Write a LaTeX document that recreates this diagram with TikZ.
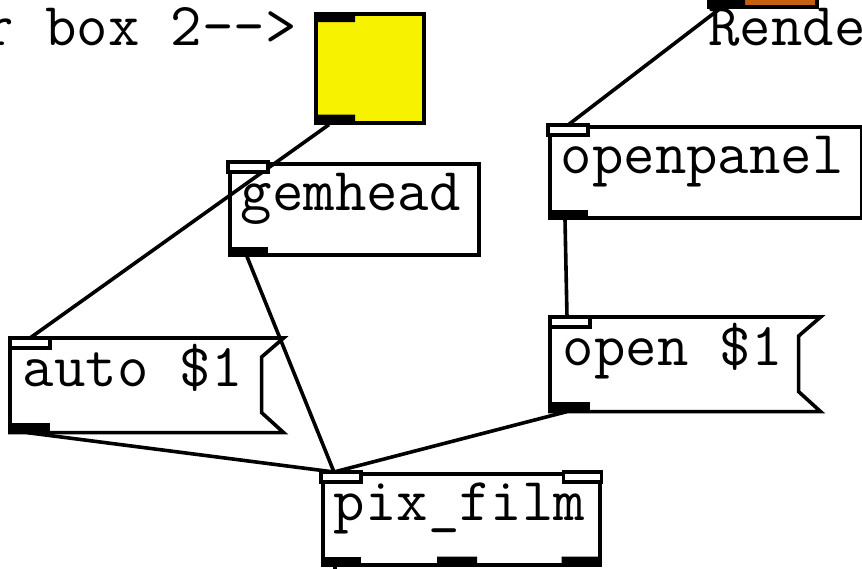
\documentclass[tikz,border=0pt]{standalone}
\newcommand\pdfont{\ttfamily\fontsize{30.5pt}{36pt}\selectfont}
\hyphenpenalty=10000
\begin{document}
\begin{tikzpicture}[x=0.5pt,y=-0.5pt,line join=miter,font=\pdfont]
		\definecolor{bangyellow}{rgb}{0.97, 0.95, 0.0}
		\definecolor{bangorange}{rgb}{0.76, 0.38, 0.08}
		\useasboundingbox (0,0) rectangle (862,568);
		\tikzset{
			pdbox/.style={draw, line width=1.8pt, anchor=north west, inner xsep=5.5pt, inner ysep=0pt,
				text height=23.5pt, text depth=22pt, text width=#1, align=flush left},
			pdmsg/.style={pdbox=#1, draw=none},
			pdbang/.style={draw, line width=1.8pt, anchor=north west, inner sep=0pt,
				minimum width=54pt, minimum height=54.5pt},
			wire/.style={line width=1.8pt},
			inlet/.style={draw, fill=white, line width=1.6pt},
			outlet/.style={fill=black},
		}
		
		\node[pdbang, fill=bangyellow] (bangY) at (314,12) {};
		\node[pdbang, fill=bangorange] (bangR) at (707,-104) {};
		\node[pdbox=113.5pt] (gem) at (228,162) {gemhead};
		\node[pdbox=145pt] (openp) at (548,125) {openpanel};
		\node[pdmsg=124pt] (auto) at (10,338) {auto \$1};
		\node[pdmsg=122.5pt] (open) at (550,317) {open \$1};
		\node[pdbox=127.5pt] (film) at (321,472) {pix\_film};
		\node[anchor=base west, inner sep=0pt] (boxnote) at (-18,45) {r box 2-{}-{}>};
		\node[anchor=base west, inner sep=0pt] (rendnote) at (708,45) {Rende};
		
		%message boxes
		\foreach \n in {auto,open}
		\draw[wire] (\n.north west) -- (\n.north east)
		-- ([xshift=-11pt,yshift=-9.5pt]\n.north east)
		-- ([xshift=-11pt,yshift=10pt]\n.south east)
		-- (\n.south east) -- (\n.south west) -- cycle;
		
		%ports
		\path (bangY.south west) ++(15,0) coordinate (bangY-o)
		(bangR.south west) ++(13,0) coordinate (bangR-o)
		(gem.south west) ++(19,0) coordinate (gem-o)
		(openp.north west) ++(20,0) coordinate (openp-i)
		(openp.south west) ++(17,0) coordinate (openp-o)
		(auto.north west) ++(20,0) coordinate (auto-i)
		(auto.south west) ++(17,0) coordinate (auto-o)
		(open.north west) ++(17,0) coordinate (open-i)
		(open.south west) ++(17,0) coordinate (open-o)
		(film.north west) ++(13,0) coordinate (film-i)
		(film.south west) ++(14,0) coordinate (film-o)
		(film-o) ++(0,40) coordinate (filmdown);
		
		\draw[wire] (bangY-o) -- (auto-i);
		\draw[wire] (gem-o) -- (film-i);
		\draw[wire] (auto-o) -- (film-i);
		\draw[wire] (open-o) -- (film-i);
		\draw[wire] (openp-o) -- (open-i);
		\draw[wire] (bangR-o) -- (openp-i);
		\draw[wire] (film-o) -- (filmdown);
		
		\path[outlet] (bangY.north west) rectangle ++(41,10)
		(bangY.south west) rectangle ++(41,-10)
		(bangR.south west) rectangle ++(38,-10);
		\foreach \n in {gem,openp,auto,open,film}{
			\path[inlet] (\n.north west) rectangle ++(40,10);
			\path[outlet] (\n.south west) rectangle ++(40,-10);
		}
		\path[inlet] (film.north east) rectangle ++(-38,10);
		\path[outlet] (film.south west) ++(116,0) rectangle ++(40,-10)
		(film.south east) rectangle ++(-40,-10);
	\end{tikzpicture}
\end{document}
